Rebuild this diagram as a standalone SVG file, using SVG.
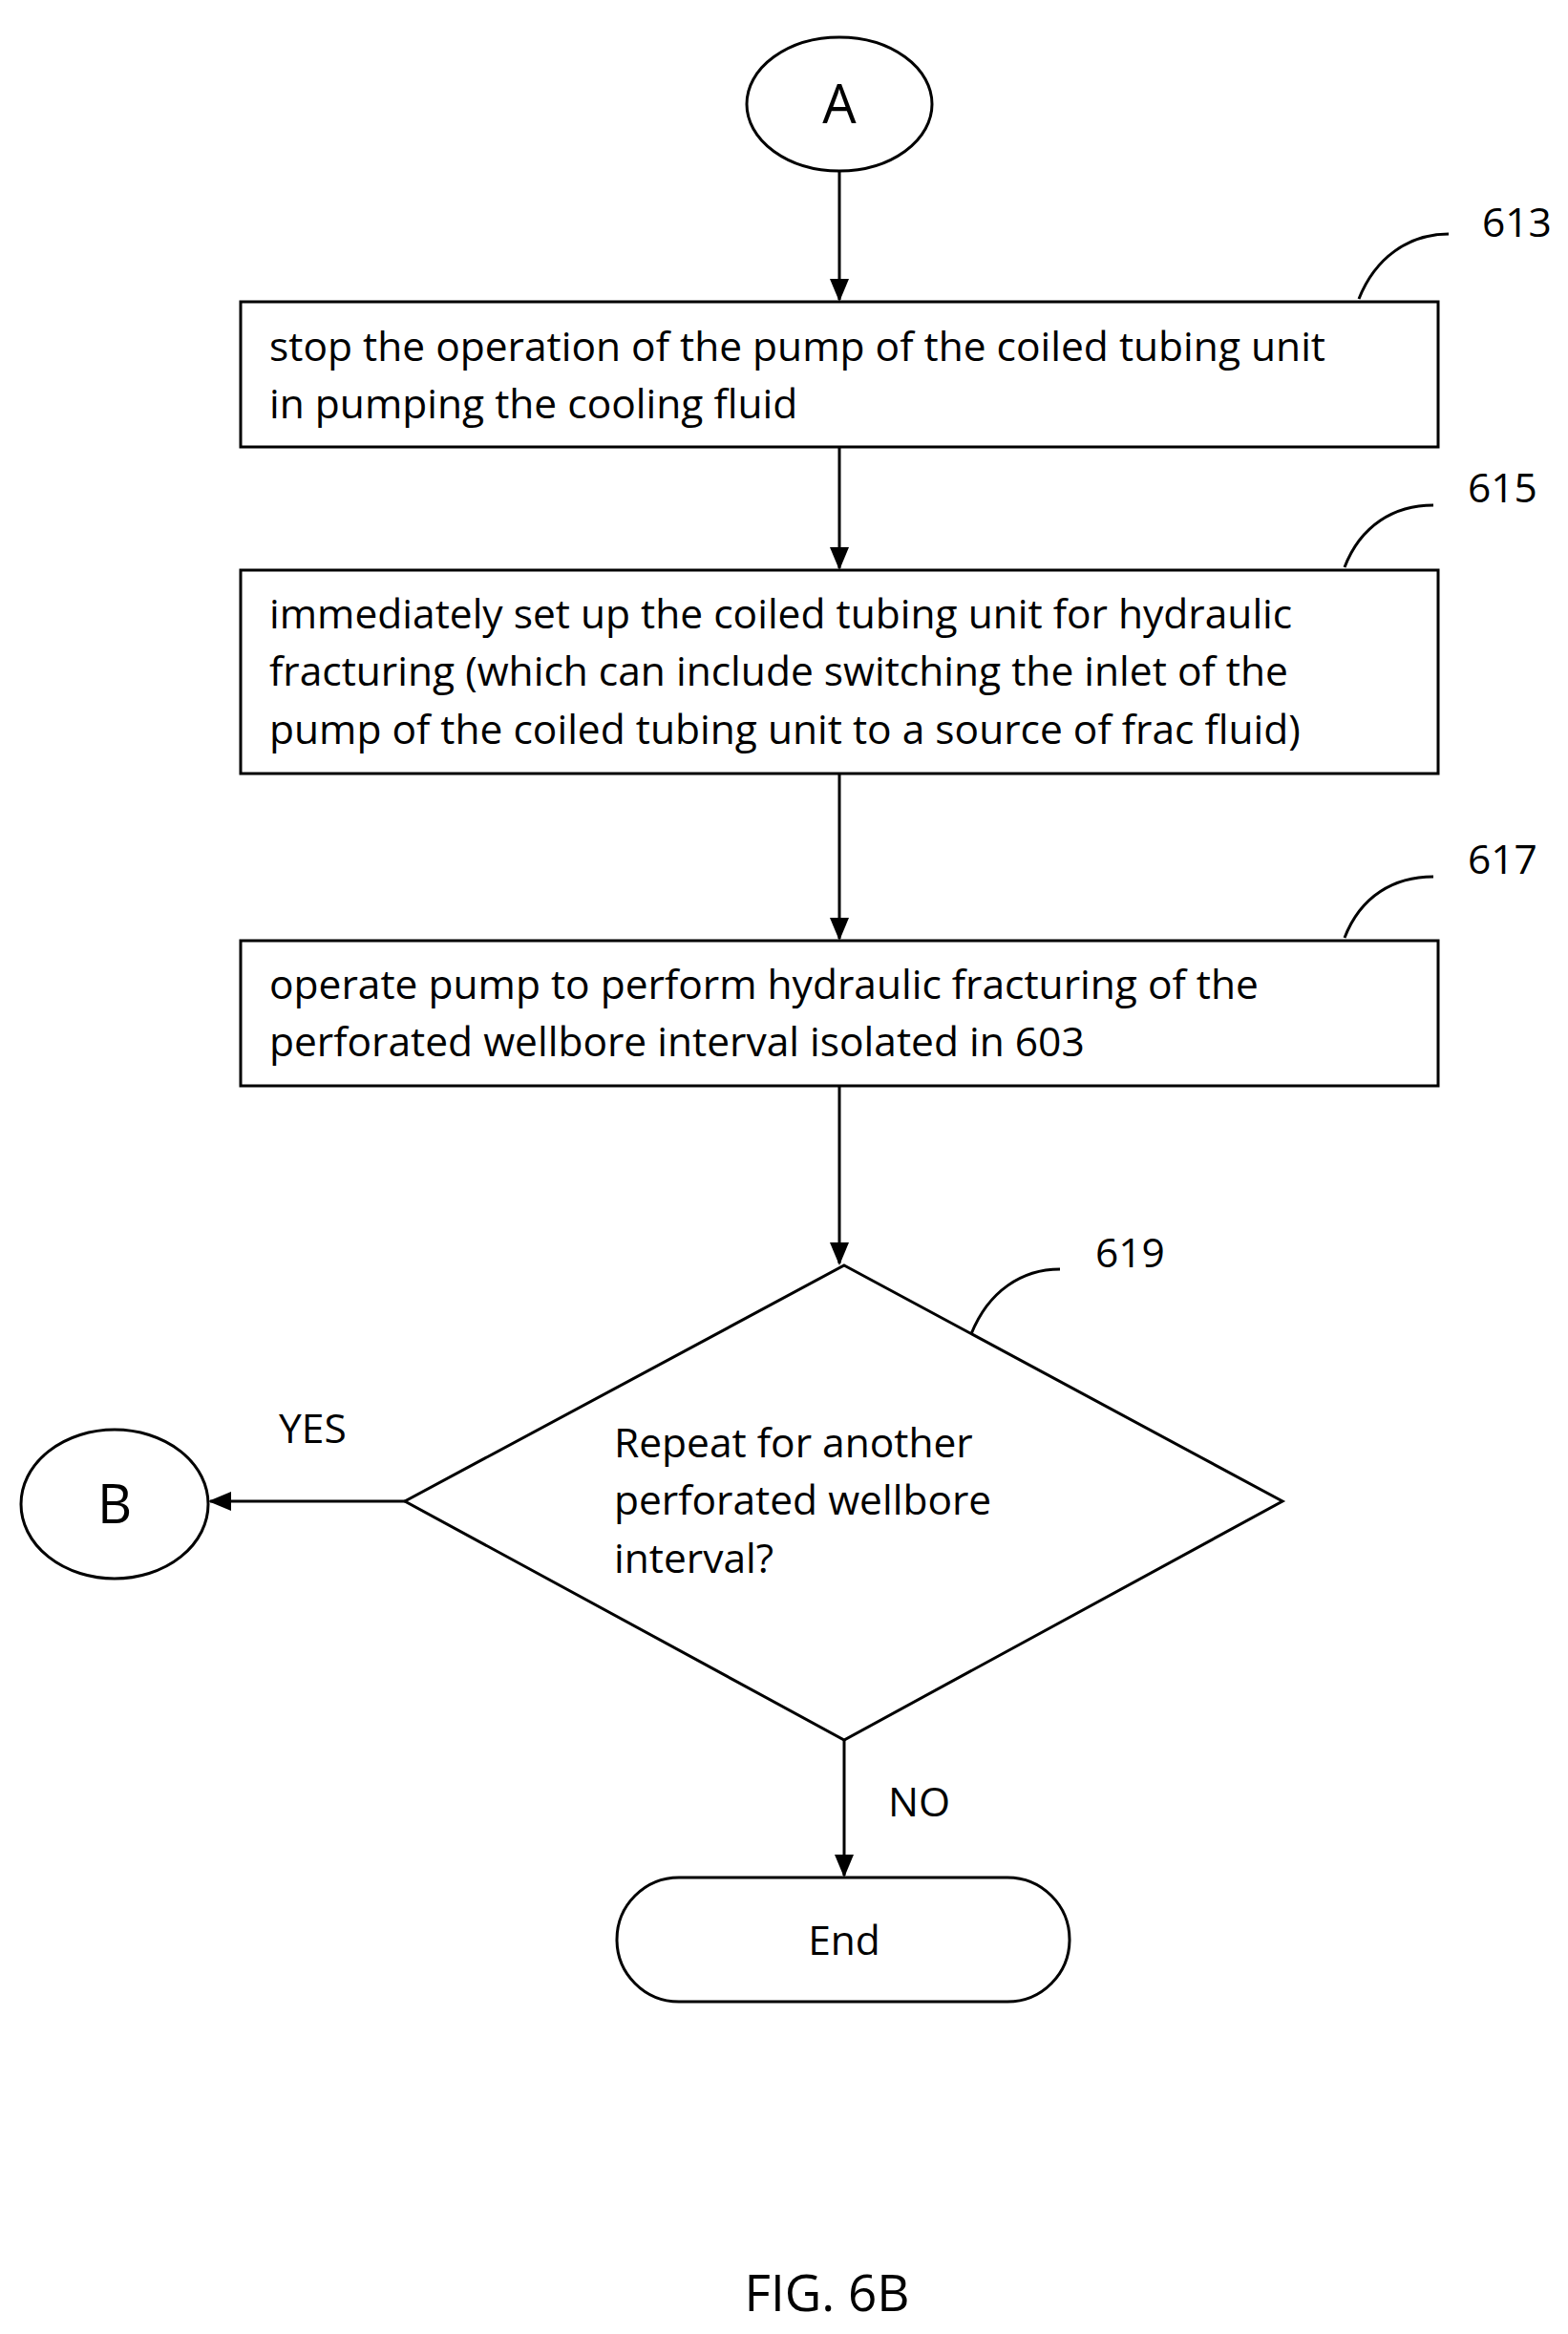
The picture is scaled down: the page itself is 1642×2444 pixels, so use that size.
<svg xmlns="http://www.w3.org/2000/svg" width="1642" height="2444" viewBox="0 0 1642 2444">
<style>
.s{fill:none;stroke:#000;stroke-width:3}
.t{font-family:"Open Sans","Liberation Sans",sans-serif;font-size:42.5px;fill:#000}
.c{text-anchor:middle}
.big{font-size:56px}
.fig{font-size:53px}
</style>
<defs><marker id="ah" markerWidth="24" markerHeight="20" refX="22" refY="10" orient="auto" markerUnits="userSpaceOnUse" viewBox="0 0 24 20"><path d="M0,0L24,10L0,20z"/></marker></defs>
<rect width="1642" height="2444" fill="#fff"/>
<g id="A"><ellipse class="s" cx="879" cy="109" rx="97" ry="70"/><text class="t c big" x="879" y="129">A</text></g>
<g id="n613"><rect class="s" x="252" y="316" width="1254" height="152"/>
<text class="t" x="282" y="378">stop the operation of the pump of the coiled tubing unit</text>
<text class="t" x="282" y="438">in pumping the cooling fluid</text>
<path class="s" d="M1423,313 C1440,270 1475,245 1517,245"/><text class="t" x="1552" y="248">613</text></g>
<g id="n615"><rect class="s" x="252" y="597" width="1254" height="213"/>
<text class="t" x="282" y="658">immediately set up the coiled tubing unit for hydraulic</text>
<text class="t" x="282" y="718">fracturing (which can include switching the inlet of the</text>
<text class="t" x="282" y="779">pump of the coiled tubing unit to a source of frac fluid)</text>
<path class="s" d="M1408,594 C1425,550 1460,529 1501,529"/><text class="t" x="1537" y="526">615</text></g>
<g id="n617"><rect class="s" x="252" y="985" width="1254" height="152"/>
<text class="t" x="282" y="1046">operate pump to perform hydraulic fracturing of the</text>
<text class="t" x="282" y="1106">perforated wellbore interval isolated in 603</text>
<path class="s" d="M1408,982 C1425,938 1460,918 1501,918"/><text class="t" x="1537" y="915">617</text></g>
<g id="n619"><path class="s" d="M884,1325L1343,1572L884,1822L424,1572Z"/>
<text class="t" x="643" y="1526">Repeat for another</text>
<text class="t" x="643" y="1586">perforated wellbore</text>
<text class="t" x="643" y="1647">interval?</text>
<path class="s" d="M1017,1397 C1035,1352 1070,1329 1110,1329"/><text class="t" x="1147" y="1327">619</text></g>
<g id="B"><ellipse class="s" cx="120" cy="1575" rx="98" ry="78"/><text class="t c big" x="120" y="1595">B</text></g>
<g id="End"><rect class="s" x="646" y="1966" width="474" height="130" rx="65"/><text class="t c" x="884" y="2047">End</text></g>
<g id="connectors">
<line class="s" x1="879" y1="180" x2="879" y2="314" marker-end="url(#ah)"/>
<line class="s" x1="879" y1="469" x2="879" y2="595" marker-end="url(#ah)"/>
<line class="s" x1="879" y1="810" x2="879" y2="983" marker-end="url(#ah)"/>
<line class="s" x1="879" y1="1137" x2="879" y2="1323" marker-end="url(#ah)"/>
<line class="s" x1="424" y1="1572" x2="220" y2="1572" marker-end="url(#ah)"/>
<line class="s" x1="884" y1="1822" x2="884" y2="1964" marker-end="url(#ah)"/>
<text class="t" x="292" y="1511">YES</text>
<text class="t" x="930" y="1902">NO</text>
</g>
<text class="t c fig" x="866" y="2420">FIG. 6B</text>
</svg>
